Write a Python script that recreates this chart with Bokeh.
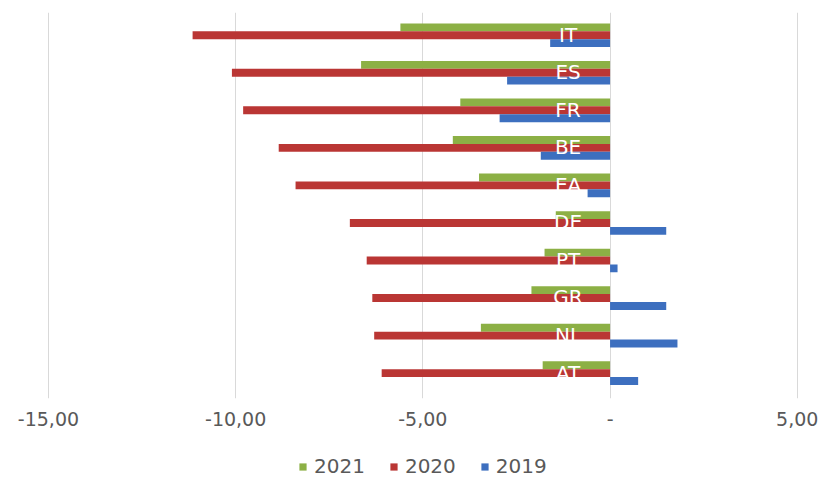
from bokeh.plotting import figure
from bokeh.layouts import column
from bokeh.models import (ColumnDataSource, FactorRange, Range1d, FixedTicker,
                          Legend, LegendItem)
from bokeh.transform import dodge
from bokeh.core.properties import value
from bokeh.embed import file_html
from bokeh.resources import INLINE

# ---- data ----
countries = ["IT", "ES", "FR", "BE", "EA", "DE", "PT", "GR", "NL", "AT"]
y2021 = [-5.6, -6.65, -4.0, -4.2, -3.5, -1.45, -1.75, -2.1, -3.45, -1.8]
y2020 = [-11.15, -10.1, -9.8, -8.85, -8.4, -6.95, -6.5, -6.35, -6.3, -6.1]
y2019 = [-1.6, -2.75, -2.95, -1.85, -0.6, 1.5, 0.2, 1.5, 1.8, 0.75]
series_names = ["2021", "2020", "2019"]
tick_values = [-15, -10, -5, 0, 5]
tick_labels = ["-15,00", "-10,00", "-5,00", "-", "5,00"]

colors = {"2021": "#8CB045", "2020": "#BA3634", "2019": "#3D6FBF"}
FONT = "DejaVu Sans"

src = ColumnDataSource(dict(cat=countries, s2021=y2021, s2020=y2020, s2019=y2019))

x_rng = Range1d(-15.8, 5.3)
p = figure(width=820, height=433, output_backend="svg", toolbar_location=None,
           x_range=x_rng,
           y_range=FactorRange(*list(reversed(countries)), range_padding=0.14,
                               range_padding_units="absolute"),
           min_border_left=18, min_border_right=12, min_border_top=12,
           min_border_bottom=35)

p.outline_line_color = None
p.background_fill_color = "white"
p.border_fill_color = "white"

bar_h = 0.21
offsets = {"2021": 0.245, "2020": 0.035, "2019": -0.175}
for name in series_names:
    p.hbar(y=dodge("cat", offsets[name], range=p.y_range), left=0,
           right="s" + name, height=bar_h, source=src,
           fill_color=colors[name], line_color=None)

# category labels (white, drawn over the bars near zero)
p.text(x=0, y=dodge("cat", 0.05, range=p.y_range), text="cat", source=src,
       x_offset=-42, text_align="center", text_baseline="middle",
       text_color="white", text_font=value(FONT), text_font_size="20px")

# axes
p.yaxis.visible = False
p.ygrid.grid_line_color = None
p.xgrid.grid_line_color = "#D9D9D9"
p.xgrid.grid_line_width = 1
p.xaxis.ticker = FixedTicker(ticks=tick_values)
p.xaxis.major_label_overrides = {v: l for v, l in zip(tick_values, tick_labels)}
p.xaxis.axis_line_color = None
p.xaxis.major_tick_line_color = None
p.xaxis.minor_tick_line_color = None
p.xaxis.major_tick_out = 0
p.xaxis.major_tick_in = 0
p.xaxis.major_label_standoff = 13
p.xaxis.major_label_text_font = FONT
p.xaxis.major_label_text_font_size = "19px"
p.xaxis.major_label_text_color = "#595959"

# ---- legend strip below the chart (hidden proxy bars feed the legend) ----
lg = figure(width=820, height=47, output_backend="svg", toolbar_location=None,
            x_range=x_rng, y_range=FactorRange(*list(reversed(countries))),
            min_border_left=0, min_border_right=0, min_border_top=0,
            min_border_bottom=0)
lg.axis.visible = False
lg.grid.grid_line_color = None
lg.outline_line_color = None
items = []
for name in series_names:
    r = lg.hbar(y=dodge("cat", offsets[name], range=lg.y_range), left=0,
                right="s" + name, height=bar_h, source=src,
                fill_color=colors[name], line_color=None, visible=False)
    items.append(LegendItem(label=name, renderers=[r]))

legend = Legend(items=items, orientation="horizontal", location=(280, 2),
                glyph_width=9, glyph_height=9, label_standoff=7, spacing=24,
                padding=0, margin=0, border_line_color=None,
                background_fill_alpha=0,
                label_text_font=FONT, label_text_font_size="20px",
                label_text_color="#595959", label_text_baseline="alphabetic")
lg.add_layout(legend, "center")

layout = column(p, lg, spacing=0)
open("out.html", "w").write(file_html(layout, INLINE))
